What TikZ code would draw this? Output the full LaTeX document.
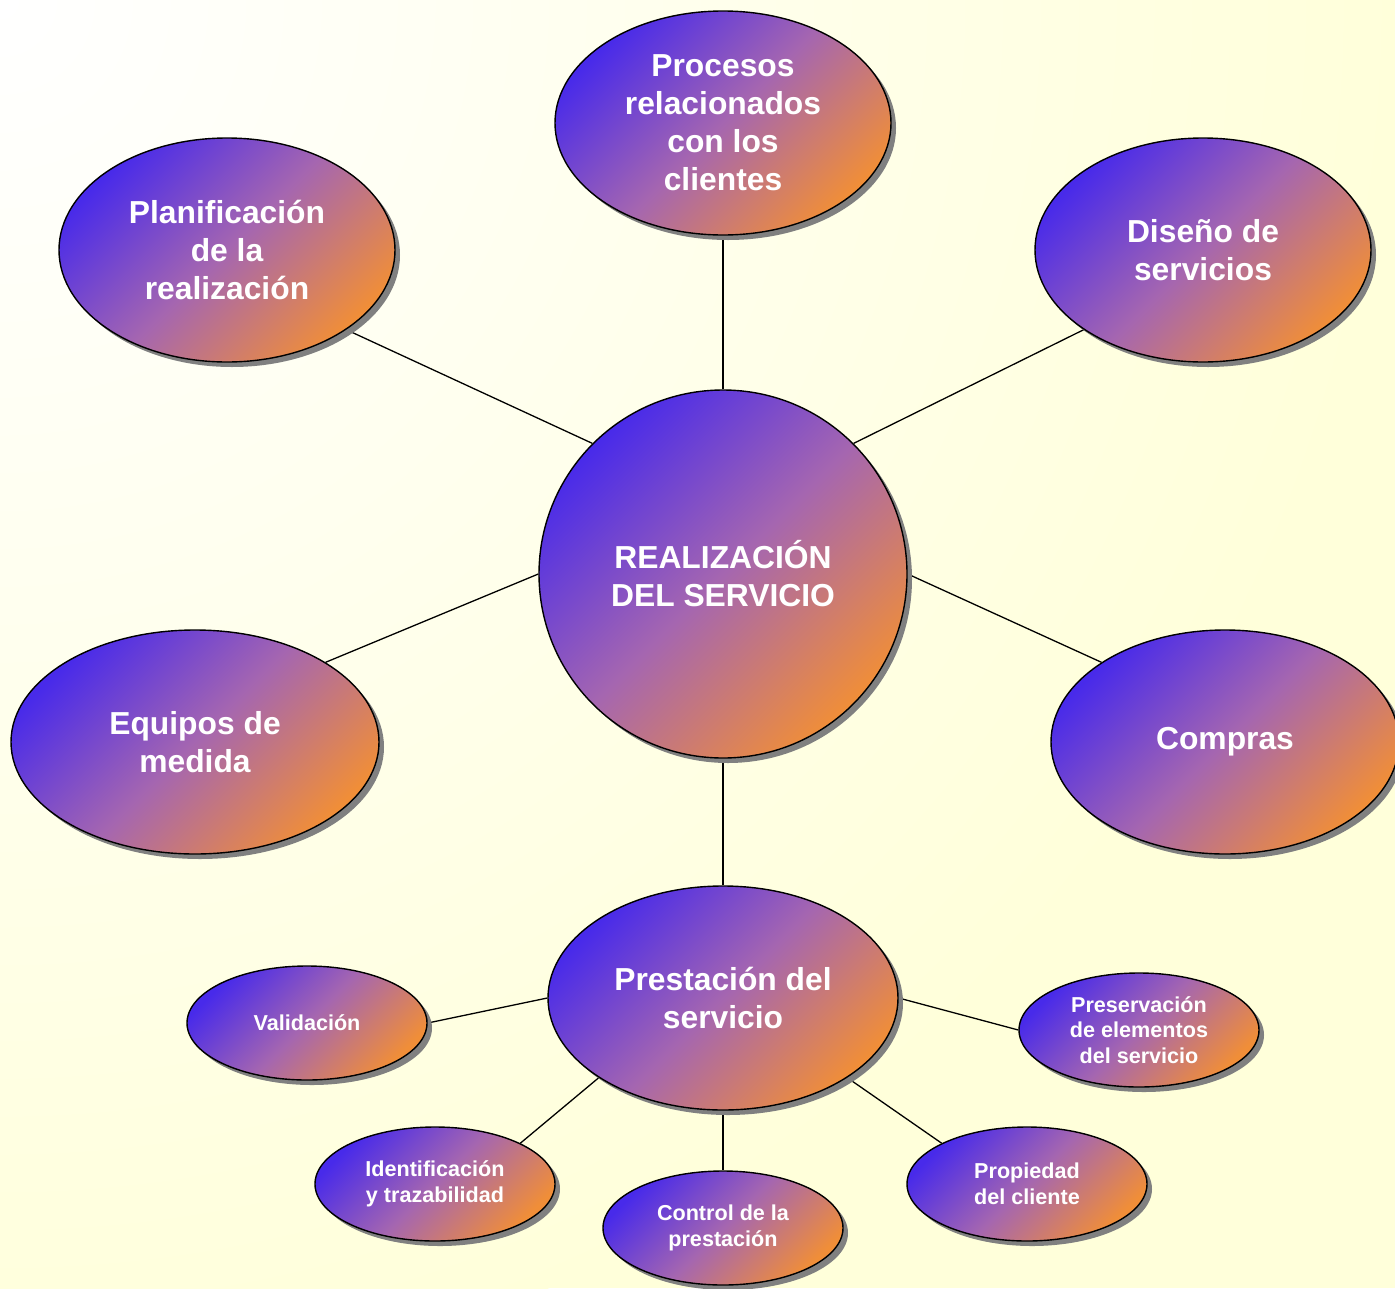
\documentclass[tikz,border=0pt]{standalone}
\usepackage{fontspec}
\setmainfont{Liberation Sans}
\usetikzlibrary{shapes.geometric,shadows}
\definecolor{bgyellow}{RGB}{255,255,218}
\definecolor{gblue}{RGB}{72,42,234}
\definecolor{gmid}{RGB}{165,102,176}
\definecolor{gorange}{RGB}{240,142,56}
\pgfdeclarelayer{back}
\pgfdeclarelayer{edges}
\pgfsetlayers{back,edges,main}
\tikzset{
  bubble/.style={ellipse, draw=black, line width=1.4pt, inner sep=0pt,
    top color=gblue, bottom color=gorange, middle color=gmid, shading angle=45,
    drop shadow={shadow xshift=5pt, shadow yshift=-5pt, fill=black!50, opacity=1},
    text=white, align=center, font=\bfseries\fontsize{31.8}{38}\selectfont},
  big/.style={bubble, minimum width=336pt, minimum height=224pt},
  small/.style={bubble, minimum width=240pt, minimum height=114pt,
    font=\bfseries\fontsize{21.6}{25.5}\selectfont},
  link/.style={line width=1.3pt, black},
}
\begin{document}
\begin{tikzpicture}[x=1pt, y=-1pt]
\useasboundingbox (0,0) rectangle (1395,1288);
% page background: white corner fading into pale yellow
\begin{pgfonlayer}{back}
  \fill[bgyellow] (0,0) rectangle (1395,1288);
  \begin{scope}
    \clip (0,0) rectangle (1395,1288);
    \shade[inner color=white, outer color=bgyellow] (0,0) circle[radius=1400];
  \end{scope}
\end{pgfonlayer}

% central topic
\node[bubble, circle, minimum size=368pt] (c) at (723,574) {REALIZACIÓN\\DEL SERVICIO};

% first ring
\node[big] (pr) at (723,123) {Procesos\\relacionados\\con los\\clientes};
\node[big] (pl) at (227,250) {Planificación\\de la\\realización};
\node[big] (di) at (1203,250) {Diseño de\\servicios};
\node[big, minimum width=368pt] (eq) at (195,742) {Equipos de\\medida};
\node[big, minimum width=348pt] (co) at (1225,742) {Compras};
\node[big, minimum width=350pt] (ps) at (723,998) {Prestación del\\servicio};

% second ring around the service delivery
\node[small] (va) at (307,1023) {Validación};
\node[small] (pe) at (1139,1030) {Preservación\\de elementos\\del servicio};
\node[small] (id) at (435,1184) {Identificación\\y trazabilidad};
\node[small] (ct) at (723,1228) {Control de la\\prestación};
\node[small] (po) at (1027,1184) {Propiedad\\del cliente};

% connectors
\begin{pgfonlayer}{edges}
  \draw[link] (c.north) -- (pr.south);
  \draw[link] (c.north west) -- (pl.south east);
  \draw[link] (c.north east) -- (di.south west);
  \draw[link] (c.west) -- (eq.north east);
  \draw[link] (c.east) -- (co.north west);
  \draw[link] (c.south) -- (ps.north);
  \draw[link] (ps.west) -- (va.east);
  \draw[link] (ps.east) -- (pe.west);
  \draw[link] (ps.south west) -- (id.north east);
  \draw[link] (ps.south) -- (ct.north);
  \draw[link] (ps.south east) -- (po.north west);
\end{pgfonlayer}
\end{tikzpicture}
\end{document}
